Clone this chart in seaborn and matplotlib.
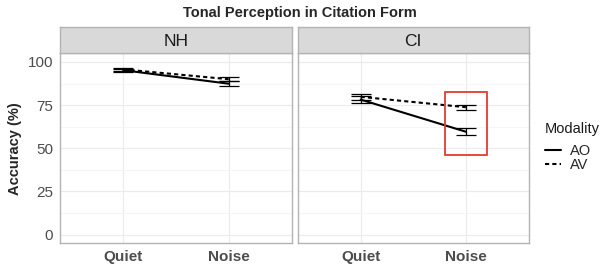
import numpy as np
import pandas as pd
import matplotlib
matplotlib.use("Agg")
import matplotlib.pyplot as plt
from matplotlib.patches import Rectangle
from matplotlib.lines import Line2D
import seaborn as sns

# data
groups = ["NH", "CI"]
conditions = ["Quiet", "Noise"]
modalities = ["AO", "AV"]
ao_mean = {"NH": [95.2, 87.4], "CI": [78.2, 59.6]}
ao_se = {"NH": [0.8, 1.5], "CI": [1.9, 2.0]}
av_mean = {"NH": [95.7, 90.0], "CI": [79.8, 73.8]}
av_se = {"NH": [0.8, 1.1], "CI": [1.7, 1.5]}

rows = []
for g in groups:
    for i, c in enumerate(conditions):
        rows.append({"group": g, "cond": c, "x": i, "Modality": "AO",
                     "acc": ao_mean[g][i], "se": ao_se[g][i]})
        rows.append({"group": g, "cond": c, "x": i, "Modality": "AV",
                     "acc": av_mean[g][i], "se": av_se[g][i]})
df = pd.DataFrame(rows)

sns.set_style("whitegrid")
plt.rcParams["font.family"] = ["Liberation Sans", "DejaVu Sans"]

fig = plt.figure(figsize=(6.01, 2.66), dpi=100)
W, H = 601, 266
panel_x = [(60, 292), (297.5, 529)]
top, bot = 53.3, 243.3
strip_top = 27.3
border = "#B3B3B3"
dashes = {"AO": "", "AV": (2.0, 1.5)}

for k, g in enumerate(groups):
    x0, x1 = panel_x[k]
    ax = fig.add_axes([x0 / W, (H - bot) / H, (x1 - x0) / W, (bot - top) / H])
    sub = df[df["group"] == g]
    sns.lineplot(data=sub, x="x", y="acc", style="Modality", dashes=dashes,
                 color="black", linewidth=1.5, ax=ax, legend=False,
                 errorbar=None)
    for m in modalities:
        s = sub[sub["Modality"] == m]
        ax.errorbar(s["x"], s["acc"], yerr=s["se"], fmt="none",
                    ecolor="black", elinewidth=0.9, capsize=7, capthick=0.9)
    ax.set_xlim(-0.6, 1.6)
    ax.set_ylim(-5, 105)
    ax.set_xticks([0, 1])
    ax.set_xticklabels(conditions, fontweight="bold", color="#4D4D4D", fontsize=11)
    ax.set_yticks([0, 25, 50, 75, 100])
    ax.set_yticks([12.5, 37.5, 62.5, 87.5], minor=True)
    ax.grid(True, which="major", color="#EBEBEB", linewidth=0.8)
    ax.grid(True, which="minor", axis="y", color="#F4F4F4", linewidth=0.6)
    ax.set_xlabel("")
    ax.set_ylabel("")
    ax.tick_params(axis="both", length=3, color="#333333", width=0.6,
                   labelcolor="#4D4D4D", labelsize=11, pad=2)
    for sp in ax.spines.values():
        sp.set_color(border)
        sp.set_linewidth(1.0)
    if k == 0:
        ax.set_ylabel("Accuracy (%)", fontweight="bold", fontsize=10.5, labelpad=4)
    else:
        ax.tick_params(axis="y", left=False, labelleft=False)
        ax.add_patch(Rectangle((0.8, 46.1), 0.4, 36.3, fill=False,
                               edgecolor="#E8392D", linewidth=1.3, zorder=5))
    # strip
    sax = fig.add_axes([x0 / W, (H - top) / H, (x1 - x0) / W, (top - strip_top) / H])
    sax.set_facecolor("#D9D9D9")
    sax.set_xticks([])
    sax.set_yticks([])
    for sp in sax.spines.values():
        sp.set_color(border)
        sp.set_linewidth(1.0)
    sax.text(0.5, 0.45, g, ha="center", va="center", fontsize=12.5,
             color="#1A1A1A", transform=sax.transAxes)

fig.text(300 / W, 1 - 13 / H, "Tonal Perception in Citation Form",
         ha="center", va="center", fontsize=10.5, fontweight="bold")

# legend: title as separate text so the gap matches ggplot's
fig.text(545 / W, 1 - 129 / H, "Modality", ha="left", va="center",
         fontsize=10.5, color="#1A1A1A")
handles = [Line2D([], [], color="black", linewidth=1.5, linestyle="-"),
           Line2D([], [], color="black", linewidth=1.5, dashes=(2.0, 1.5))]
fig.legend(handles, modalities, loc="upper left",
           bbox_to_anchor=(545 / W, 1 - 144 / H), frameon=False,
           fontsize=10.5, handlelength=1.1,
           handletextpad=0.6, labelspacing=0.0, borderpad=0,
           borderaxespad=0)

fig.savefig("out.png", dpi=100)
